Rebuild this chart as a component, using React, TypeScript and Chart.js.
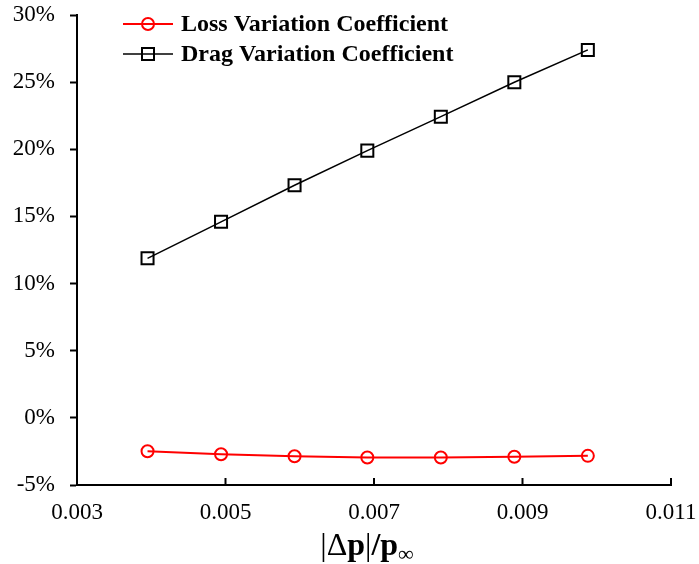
import React, { useEffect, useRef } from 'react';
import { Chart, registerables } from 'chart.js';

Chart.register(...registerables);

const xValues = [0.00395, 0.00494, 0.00593, 0.00691, 0.0079, 0.00889, 0.00988];
const lossValues = [-2.49, -2.71, -2.86, -2.95, -2.95, -2.9, -2.83];
const dragValues = [11.88, 14.6, 17.32, 19.9, 22.43, 24.99, 27.4];
const seriesNames = ['Loss Variation Coefficient', 'Drag Variation Coefficient'];
const seriesColors = ['#ff0000', '#000000'];
const xMin = 0.003;
const xMax = 0.011;
const xStep = 0.002;
const yMin = -5;
const yMax = 30;
const yStep = 5;
// x-axis title pieces: [text, bold]
const xTitleParts: [string, boolean][] = [
  ['|', false],
  ['Δ', false],
  ['p', true],
  ['|', false],
  ['/', true],
  ['p', true],
];
const xTitleSub = '∞';

const FONT = '"Liberation Serif", "Times New Roman", serif';

const customPlugin = {
  id: 'customDecor',
  afterDraw(chart: any) {
    const ctx = chart.ctx as CanvasRenderingContext2D;
    const area = chart.chartArea;
    const xs = chart.scales.x;
    ctx.save();
    // inward x ticks
    ctx.strokeStyle = '#000';
    ctx.lineWidth = 2;
    xs.ticks.forEach((t: any) => {
      const px = xs.getPixelForValue(t.value);
      ctx.beginPath();
      ctx.moveTo(px, area.bottom);
      ctx.lineTo(px, area.bottom - 7);
      ctx.stroke();
    });

    // legend
    const legendX0 = 123;
    const legendX1 = 173;
    const legendYs = [24, 54];
    const textX = 181;
    ctx.font = `bold 24px ${FONT}`;
    ctx.textBaseline = 'middle';
    ctx.textAlign = 'left';
    seriesNames.forEach((name, i) => {
      const y = legendYs[i];
      const cx = (legendX0 + legendX1) / 2;
      ctx.strokeStyle = seriesColors[i];
      ctx.lineWidth = i === 0 ? 2 : 1.5;
      ctx.beginPath();
      ctx.moveTo(legendX0, y);
      ctx.lineTo(legendX1, y);
      ctx.stroke();
      ctx.lineWidth = 2;
      ctx.beginPath();
      if (i === 0) {
        ctx.arc(cx, y, 6, 0, Math.PI * 2);
      } else {
        ctx.rect(cx - 6, y - 6, 12, 12);
      }
      ctx.stroke();
      ctx.fillStyle = '#000';
      ctx.fillText(name, textX, y + 1);
    });

    // x axis title
    ctx.fillStyle = '#000';
    ctx.textBaseline = 'alphabetic';
    const mainSize = 32;
    const subSize = 22;
    let total = 0;
    const widths = xTitleParts.map(([t, b]) => {
      ctx.font = `${b ? 'bold ' : ''}${mainSize}px ${FONT}`;
      const w = ctx.measureText(t).width;
      total += w;
      return w;
    });
    ctx.font = `${subSize}px ${FONT}`;
    const wSub = ctx.measureText(xTitleSub).width;
    total += wSub;
    const center = 367;
    let x = center - total / 2;
    xTitleParts.forEach(([t, b], i) => {
      ctx.font = `${b ? 'bold ' : ''}${mainSize}px ${FONT}`;
      ctx.fillText(t, x, 555);
      x += widths[i];
    });
    ctx.font = `${subSize}px ${FONT}`;
    ctx.fillText(xTitleSub, x, 561);
    ctx.restore();
  },
};

export default function App() {
  const canvasRef = useRef<HTMLCanvasElement | null>(null);

  useEffect(() => {
    if (!canvasRef.current) return;
    const chart = new Chart(canvasRef.current, {
      type: 'line',
      data: {
        datasets: [
          {
            label: seriesNames[0],
            data: xValues.map((x, i) => ({ x, y: lossValues[i] })),
            borderColor: seriesColors[0],
            backgroundColor: 'rgba(0,0,0,0)',
            borderWidth: 2,
            pointStyle: 'circle',
            pointRadius: 6,
            pointBorderWidth: 2,
            pointBorderColor: seriesColors[0],
            pointBackgroundColor: 'rgba(0,0,0,0)',
            tension: 0,
          },
          {
            label: seriesNames[1],
            data: xValues.map((x, i) => ({ x, y: dragValues[i] })),
            borderColor: seriesColors[1],
            backgroundColor: 'rgba(0,0,0,0)',
            borderWidth: 1.5,
            pointStyle: 'rect',
            pointRadius: 8.5,
            pointBorderWidth: 2,
            pointBorderColor: seriesColors[1],
            pointBackgroundColor: 'rgba(0,0,0,0)',
            tension: 0,
          },
        ],
      },
      options: {
        animation: false,
        responsive: false,
        maintainAspectRatio: false,
        layout: { padding: { top: 15, right: 28, bottom: 0, left: 0 } },
        plugins: {
          legend: { display: false },
          tooltip: { enabled: false },
          title: { display: false },
        },
        scales: {
          x: {
            type: 'linear',
            min: xMin,
            max: xMax,
            ticks: {
              stepSize: xStep,
              color: '#000',
              font: { family: FONT, size: 23 },
              padding: 14,
              maxRotation: 0,
              callback: (v: any) => Number(v).toFixed(3),
            },
            grid: { display: true, drawOnChartArea: false, drawTicks: false, color: 'rgba(0,0,0,0)' },
            border: { display: true, color: '#000', width: 2 },
            afterFit: (s: any) => {
              s.height = 564 - 485;
              s.paddingLeft = 0;
              s.paddingRight = 0;
            },
          },
          y: {
            type: 'linear',
            min: yMin,
            max: yMax,
            ticks: {
              stepSize: yStep,
              color: '#000',
              font: { family: FONT, size: 23 },
              padding: 15,
              callback: (v: any) => `${v}%`,
            },
            grid: {
              display: true,
              drawOnChartArea: false,
              drawTicks: true,
              tickLength: 7,
              tickWidth: 2,
              tickColor: '#000',
            },
            border: { display: true, color: '#000', width: 2 },
            afterFit: (s: any) => {
              s.width = 77;
              s.paddingTop = 0;
              s.paddingBottom = 0;
            },
          },
        },
      },
      plugins: [customPlugin],
    } as any);
    return () => chart.destroy();
  }, []);

  return (
    <div style={{ position: 'fixed', left: 0, top: 0, width: 699, height: 564, background: '#fff' }}>
      <canvas ref={canvasRef} width={699} height={564} style={{ width: 699, height: 564, display: 'block' }} />
    </div>
  );
}
